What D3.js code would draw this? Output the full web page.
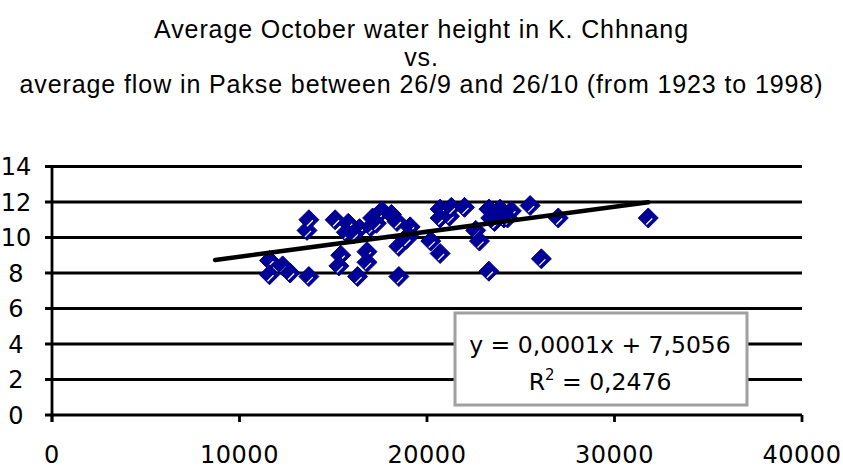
<!DOCTYPE html>
<html><head><meta charset="utf-8">
<script src="https://cdn.jsdelivr.net/npm/d3@7"></script>
<style>body{margin:0;background:#fff}</style>
</head><body>
<script>
const titleLines = ["Average October water height in K. Chhnang", "vs.", "average flow in Pakse between 26/9 and 26/10 (from 1923 to 1998)"];
const flow = [11600,11600,12300,12700,13700,13600,13700,15100,15800,15700,15400,15300,16300,16800,16800,16400,17000,17100,17600,18100,18400,18500,18500,19100,19000,18900,20200,20700,20700,20700,21200,21300,22000,22600,22800,23300,23900,24500,23400,24100,25500,23300,26100,27000,31800,16100,17300,23600,24300];
const height = [8.7,7.9,8.4,8.0,7.8,10.4,11.0,11.0,10.8,10.3,9.0,8.4,7.8,9.2,8.6,10.5,10.6,11.1,11.5,11.3,10.9,9.5,7.8,10.6,10.1,9.9,9.8,9.1,11.6,11.1,11.2,11.7,11.7,10.4,9.8,11.6,11.6,11.5,11.1,11.1,11.8,8.1,8.8,11.1,11.1,10.2,10.8,10.9,11.1];
const xTicks = [0,10000,20000,30000,40000];
const yTicks = [0,2,4,6,8,10,12,14];
const trendSlope = 0.000141, trendIntercept = 7.5056;
const trendRange = [8700, 31800];
const eqLines = ["y = 0,0001x + 7,5056", "0,2476"];

const W=843,H=470;
const svg=d3.select("body").append("svg").attr("width",W).attr("height",H);
const x=d3.scaleLinear().domain([0,40000]).range([52,802]);
const y=d3.scaleLinear().domain([0,14]).range([415,166.5]);
const tickFont="'DejaVu Sans', Verdana, sans-serif";

// title
svg.append("g").selectAll("text").data(titleLines).join("text")
  .attr("x",W/2).attr("y",(d,i)=>38+i*27.5).attr("text-anchor","middle")
  .attr("font-family","'Liberation Sans', Arial, sans-serif").attr("font-size",25)
  .attr("letter-spacing",0.9).text(d=>d);

// gridlines
svg.append("g").selectAll("line").data(yTicks).join("line")
  .attr("x1",x(0)-7).attr("x2",x(40000)).attr("y1",d=>y(d)).attr("y2",d=>y(d))
  .attr("stroke","#000").attr("stroke-width",2.8);
// y axis line
svg.append("line").attr("x1",x(0)).attr("x2",x(0)).attr("y1",y(14)).attr("y2",y(0)+7).attr("stroke","#000").attr("stroke-width",2.8);
// x ticks
svg.append("g").selectAll("line").data(xTicks).join("line")
  .attr("x1",d=>x(d)).attr("x2",d=>x(d)).attr("y1",y(0)).attr("y2",y(0)+7)
  .attr("stroke","#000").attr("stroke-width",2.8);
// y labels
svg.append("g").selectAll("text").data(yTicks).join("text")
  .attr("x",16).attr("y",d=>y(d)+8.5).attr("text-anchor","middle")
  .attr("font-family",tickFont).attr("font-size",24).text(d=>d);
// x labels
svg.append("g").selectAll("text").data(xTicks).join("text")
  .attr("x",d=>x(d)).attr("y",463).attr("text-anchor","middle")
  .attr("font-family",tickFont).attr("font-size",24).attr("letter-spacing",0.5).text(d=>d);

// points
const r=10;
const g=svg.append("g").selectAll("g").data(flow.map((f,i)=>[f,height[i]])).join("g")
  .attr("transform",d=>`translate(${x(d[0])},${y(d[1])})`);
g.append("path").attr("d",`M0,${-r}L${r},0L0,${r}L${-r},0Z`).attr("fill","#000099").attr("stroke","#000080").attr("stroke-width",1).attr("stroke-linejoin","round");
g.append("line").attr("x1",-2).attr("y1",6.5).attr("x2",4).attr("y2",0.5).attr("stroke","#fff").attr("stroke-width",1.2);

// trendline
svg.append("line").attr("x1",x(trendRange[0])).attr("x2",x(trendRange[1]))
  .attr("y1",y(trendSlope*trendRange[0]+trendIntercept)).attr("y2",y(trendSlope*trendRange[1]+trendIntercept))
  .attr("stroke","#000").attr("stroke-width",4.5).attr("stroke-linecap","round");

// equation box
svg.append("rect").attr("x",455).attr("y",313).attr("width",292).attr("height",92)
  .attr("fill","#fff").attr("stroke","#a0a0a0").attr("stroke-width",3);
svg.append("text").attr("x",600).attr("y",353).attr("text-anchor","middle")
  .attr("font-family",tickFont).attr("font-size",23.5).text(eqLines[0]);
const t2=svg.append("text").attr("x",600).attr("y",390).attr("text-anchor","middle")
  .attr("font-family",tickFont).attr("font-size",23.5);
t2.append("tspan").text("R");
t2.append("tspan").attr("dy",-10).attr("font-size",15).text("2");
t2.append("tspan").attr("dy",10).text(" = "+eqLines[1]);
</script>
</body></html>
